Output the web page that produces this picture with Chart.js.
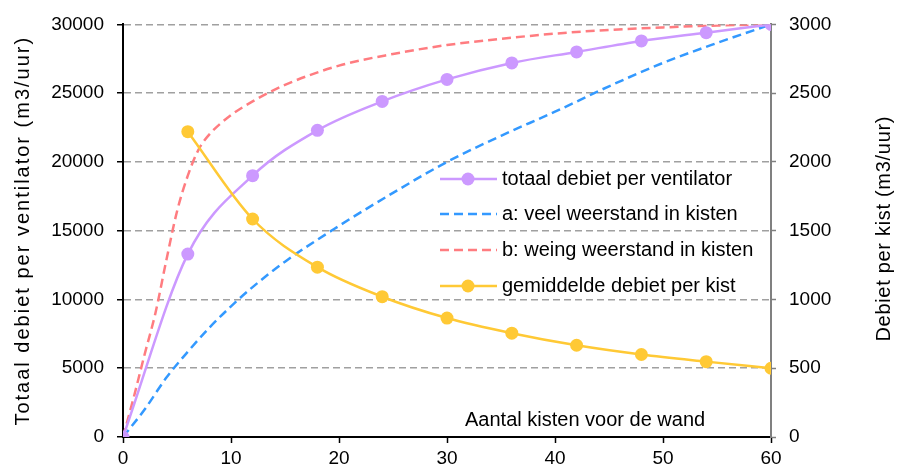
<!DOCTYPE html>
<html lang="nl">
<head>
    <meta charset="UTF-8">
    <title>Debiet per ventilator</title>
    <script src="https://cdn.jsdelivr.net/npm/chart.js"></script>
    <style>
        body {
            margin: 0;
            background: #fff;
        }

        .chart-wrapper {
            width: 898px;
            height: 468px;
        }
    </style>
</head>
<body>
    <div class="chart-wrapper">
        <canvas id="debietChart"></canvas>
    </div>

    <script>
        // totaal debiet per ventilator (m3/uur), per aantal kisten
        const kisten = [0, 6, 12, 18, 24, 30, 36, 42, 48, 54, 60];
        const totaalDebiet = [0, 13300, 19000, 22300, 24400, 26000, 27200, 28000, 28800, 29400, 30000];

        // gemiddelde debiet per kist (rechter as)
        const kistenGem = [6, 12, 18, 24, 30, 36, 42, 48, 54, 60];
        const gemiddeldDebiet = [2220, 1585, 1235, 1020, 865, 755, 667, 600, 548, 500];

        // a: veel weerstand in kisten
        const kistenA = [0, 2, 4, 6, 8, 10, 12, 15, 20, 25, 30, 35, 40, 45, 50, 55, 60];
        const veelWeerstand = [0, 2000, 4300, 6200, 7950, 9500, 10900, 12750, 15350, 17750, 20000, 21900, 23650, 25500, 27200, 28650, 30000];

        // b: weinig weerstand in kisten
        const kistenB = [0, 1, 2, 3, 4, 5, 6, 7, 8, 10, 12, 15, 20, 25, 30, 35, 40, 45, 50, 55, 60];
        const weinigWeerstand = [0, 2900, 6000, 9000, 12800, 16400, 19000, 20900, 22000, 23400, 24400, 25600, 27000, 27850, 28500, 28950, 29330, 29600, 29780, 29920, 30000];

        const legendLabels = [
            'totaal debiet per ventilator',
            'a: veel weerstand in kisten',
            'b: weing weerstand in kisten',
            'gemiddelde debiet per kist'
        ];

        const fontFamily = "'Liberation Sans', Arial, sans-serif";

        function toPoints(xs, ys) {
            return xs.map((x, i) => ({ x: x, y: ys[i] }));
        }

        // titels en legenda worden zelf getekend (zoals in Excel, binnen het plotvlak)
        const textPlugin = {
            id: 'textPlugin',
            afterDatasetsDraw(chart) {
                const ctx = chart.ctx;
                const area = chart.chartArea;
                const midY = (area.top + area.bottom) / 2;

                ctx.save();
                ctx.fillStyle = '#000';
                ctx.font = '20px ' + fontFamily;
                ctx.textAlign = 'center';
                ctx.textBaseline = 'middle';

                // linker astitel
                ctx.save();
                ctx.letterSpacing = '2px';
                ctx.translate(23, midY);
                ctx.rotate(-Math.PI / 2);
                ctx.fillText('Totaal debiet per ventilator (m3/uur)', 0, 0);
                ctx.restore();

                // rechter astitel
                ctx.save();
                ctx.letterSpacing = '0.7px';
                ctx.translate(884, midY - 2);
                ctx.rotate(-Math.PI / 2);
                ctx.fillText('Debiet per kist (m3/uur)', 0, 0);
                ctx.restore();

                // x-as titel
                ctx.textAlign = 'left';
                ctx.textBaseline = 'alphabetic';
                ctx.fillText('Aantal kisten voor de wand', 465, 426);

                // legenda
                const rowsY = [179, 214, 250, 286];
                chart.data.datasets.forEach((ds, i) => {
                    const y = rowsY[i];
                    ctx.save();
                    ctx.strokeStyle = ds.borderColor;
                    ctx.lineWidth = ds.borderWidth;
                    ctx.setLineDash(ds.borderDash || []);
                    ctx.beginPath();
                    ctx.moveTo(440, y);
                    ctx.lineTo(497, y);
                    ctx.stroke();
                    if (ds.pointRadius > 0) {
                        ctx.fillStyle = ds.pointBackgroundColor;
                        ctx.beginPath();
                        ctx.arc(468, y, ds.pointRadius, 0, Math.PI * 2);
                        ctx.fill();
                    }
                    ctx.restore();
                    ctx.textBaseline = 'middle';
                    ctx.fillText(legendLabels[i], 502, y);
                });
                ctx.restore();
            }
        };

        // geen duizendtal-scheidingsteken, zoals in het origineel
        const plainTick = (value) => String(value);

        const ctx = document.getElementById('debietChart').getContext('2d');
        const debietChart = new Chart(ctx, {
            type: 'line',
            data: {
                datasets: [{
                    label: legendLabels[0],
                    data: toPoints(kisten, totaalDebiet),
                    yAxisID: 'y',
                    borderColor: '#CC99FF',
                    backgroundColor: '#CC99FF',
                    pointBackgroundColor: '#CC99FF',
                    borderWidth: 2.5,
                    pointRadius: 6.5,
                    pointBorderWidth: 0,
                    cubicInterpolationMode: 'monotone',
                    order: 1
                }, {
                    label: legendLabels[1],
                    data: toPoints(kistenA, veelWeerstand),
                    yAxisID: 'y',
                    borderColor: '#3399FF',
                    borderWidth: 2.5,
                    borderDash: [9, 5],
                    pointRadius: 0,
                    cubicInterpolationMode: 'monotone',
                    order: 3
                }, {
                    label: legendLabels[2],
                    data: toPoints(kistenB, weinigWeerstand),
                    yAxisID: 'y',
                    borderColor: '#FF7C80',
                    borderWidth: 2.5,
                    borderDash: [9, 5],
                    pointRadius: 0,
                    cubicInterpolationMode: 'monotone',
                    order: 2
                }, {
                    label: legendLabels[3],
                    data: toPoints(kistenGem, gemiddeldDebiet),
                    yAxisID: 'y1',
                    borderColor: '#FFC935',
                    backgroundColor: '#FFC935',
                    pointBackgroundColor: '#FFC935',
                    borderWidth: 2.5,
                    pointRadius: 6.5,
                    pointBorderWidth: 0,
                    cubicInterpolationMode: 'monotone',
                    order: 0
                }]
            },
            options: {
                responsive: true,
                maintainAspectRatio: false,
                animation: false,
                layout: {
                    padding: { top: 23, left: 0, right: 0, bottom: 0 }
                },
                plugins: {
                    legend: { display: false },
                    tooltip: { enabled: false }
                },
                scales: {
                    x: {
                        type: 'linear',
                        min: 0,
                        max: 60,
                        afterFit: (scale) => { scale.height = 31; },
                        ticks: {
                            stepSize: 10,
                            padding: 4,
                            color: '#000',
                            callback: plainTick,
                            font: { family: fontFamily, size: 19 }
                        },
                        grid: {
                            drawOnChartArea: false,
                            tickLength: 6,
                            tickColor: '#000',
                            tickWidth: 1.5
                        },
                        border: { color: '#000', width: 2 }
                    },
                    y: {
                        position: 'left',
                        min: 0,
                        max: 30000,
                        afterFit: (scale) => { scale.width = 123; },
                        ticks: {
                            stepSize: 5000,
                            padding: 13,
                            color: '#000',
                            callback: plainTick,
                            font: { family: fontFamily, size: 19 }
                        },
                        grid: {
                            color: '#a0a0a0',
                            lineWidth: 1.5,
                            tickLength: 6,
                            tickColor: '#000',
                            tickWidth: 1.5
                        },
                        border: { color: '#000', width: 2, dash: [7, 4] }
                    },
                    y1: {
                        position: 'right',
                        min: 0,
                        max: 3000,
                        afterFit: (scale) => { scale.width = 127; },
                        ticks: {
                            stepSize: 500,
                            padding: 13,
                            color: '#000',
                            callback: plainTick,
                            font: { family: fontFamily, size: 19 }
                        },
                        grid: {
                            drawOnChartArea: false,
                            tickLength: 5,
                            tickColor: '#808080',
                            tickWidth: 1.5
                        },
                        border: { color: '#808080', width: 2 }
                    }
                }
            },
            plugins: [textPlugin]
        });
    </script>
</body>
</html>
